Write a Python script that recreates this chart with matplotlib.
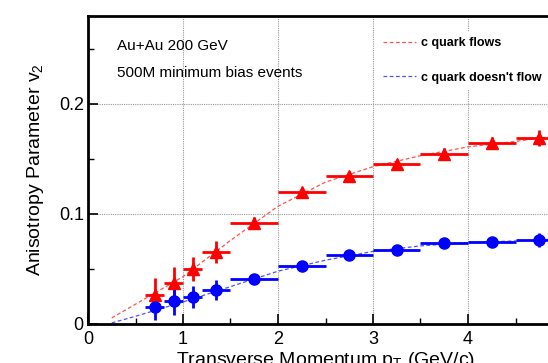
import matplotlib
matplotlib.use("Agg")
import matplotlib.pyplot as plt
from matplotlib.lines import Line2D
import numpy as np

plt.rcParams['font.family'] = ['Liberation Sans', 'DejaVu Sans']
plt.rcParams['mathtext.fontset'] = 'custom'
plt.rcParams['mathtext.rm'] = 'Liberation Sans'
plt.rcParams['mathtext.it'] = 'Liberation Sans'

# pT bins and points
pt = [0.7, 0.9, 1.1, 1.35, 1.75, 2.25, 2.75, 3.25, 3.75, 4.25, 4.75]
pt_lo = [0.6, 0.8, 1.0, 1.2, 1.5, 2.0, 2.5, 3.0, 3.5, 4.0, 4.5]
pt_hi = [0.8, 1.0, 1.2, 1.5, 2.0, 2.5, 3.0, 3.5, 4.0, 4.5, 5.0]

# c quark flows (red triangles)
v2_flow = [0.026, 0.037, 0.050, 0.0655, 0.092, 0.120, 0.1345, 0.1455, 0.155, 0.165, 0.169]
v2_flow_err = [0.016, 0.015, 0.011, 0.010, 0.005, 0.004, 0.004, 0.004, 0.005, 0.005, 0.007]

# c quark doesn't flow (blue circles)
v2_noflow = [0.0157, 0.021, 0.0248, 0.031, 0.041, 0.0527, 0.0627, 0.067, 0.0735, 0.0745, 0.0764]
v2_noflow_err = [0.012, 0.013, 0.010, 0.009, 0.004, 0.003, 0.003, 0.003, 0.003, 0.004, 0.0065]

# dashed curves
curve_pt = [0.25, 0.5, 1.0, 1.5, 2.0, 2.5, 3.0, 3.5, 4.0, 4.5, 5.0]
curve_flow = [0.0055, 0.018, 0.043, 0.076, 0.107, 0.129, 0.143, 0.153, 0.161, 0.166, 0.172]
curve_noflow = [0.001, 0.007, 0.020, 0.034, 0.048, 0.058, 0.066, 0.071, 0.074, 0.0755, 0.0775]

W, H = 548, 363
fig = plt.figure(figsize=(W / 100, H / 100), dpi=100)
ax = fig.add_axes([88 / W, (H - 324) / H, 475 / W, 308 / H])

pt = np.array(pt)
xerr = [pt - np.array(pt_lo), np.array(pt_hi) - pt]

ax.plot(curve_pt, curve_flow, color='#ff5050', lw=0.9, dashes=(3, 2), zorder=2)
ax.plot(curve_pt, curve_noflow, color='#5050ff', lw=0.9, dashes=(3, 2), zorder=2)

ax.errorbar(pt, v2_flow, yerr=v2_flow_err, xerr=xerr, fmt='^', color='#ff0000',
            ms=8, elinewidth=2.0, capsize=0, zorder=3)
ax.errorbar(pt, v2_noflow, yerr=v2_noflow_err, xerr=xerr, fmt='o', color='#0000ff',
            ms=8, elinewidth=2.0, capsize=0, zorder=3)

ax.set_xlim(0, 5)
ax.set_ylim(0, 0.28)
ax.set_xticks([0, 1, 2, 3, 4])
ax.set_xticks(np.arange(0.5, 5, 1.0), minor=True)
ax.set_yticks([0, 0.1, 0.2])
ax.set_yticks([0.05, 0.15, 0.25], minor=True)
ax.set_yticklabels(['0', '0.1', '0.2'])

ax.tick_params(which='both', direction='in', top=False, right=False, labelsize=13)
ax.tick_params(which='major', length=7, width=1.2)
ax.tick_params(which='minor', length=4, width=1.0)
ax.tick_params(axis='x', pad=5)
ax.tick_params(axis='y', pad=3)

ax.grid(True, which='major', color='#999999', lw=0.8, dashes=(1, 1), zorder=1)

for s in ['left', 'bottom', 'top']:
    ax.spines[s].set_linewidth(2)
ax.spines['right'].set_visible(False)

ax.set_xlabel(r'Transverse Momentum p$_\mathrm{T}$ (GeV/c)', fontsize=14)
ax.xaxis.set_label_coords(0.5, -0.085)
ax.set_ylabel(r'Anisotropy Parameter v$_\mathrm{2}$', fontsize=14)
ax.yaxis.set_label_coords(-0.088, 0.5)

ax.text(0.061, 0.903, 'Au+Au 200 GeV', transform=ax.transAxes, fontsize=11, va='center')
ax.text(0.061, 0.815, '500M minimum bias events', transform=ax.transAxes, fontsize=11, va='center')

handles = [Line2D([], [], color='#ff5050', lw=0.9, dashes=(3, 2)),
           Line2D([], [], color='#5050ff', lw=0.9, dashes=(3, 2))]
leg = ax.legend(handles, ['c quark flows', "c quark doesn't flow"],
                loc='upper left', bbox_to_anchor=((377 - 88) / 475, 1.0 - 15 / 308),
                prop={'weight': 'bold', 'size': 9}, frameon=True, fancybox=False,
                facecolor='white', edgecolor='none', framealpha=1,
                handlelength=2.6, handletextpad=0.4, labelspacing=1.8,
                borderpad=0.5, borderaxespad=0.0)

fig.savefig('out.png', dpi=100)
